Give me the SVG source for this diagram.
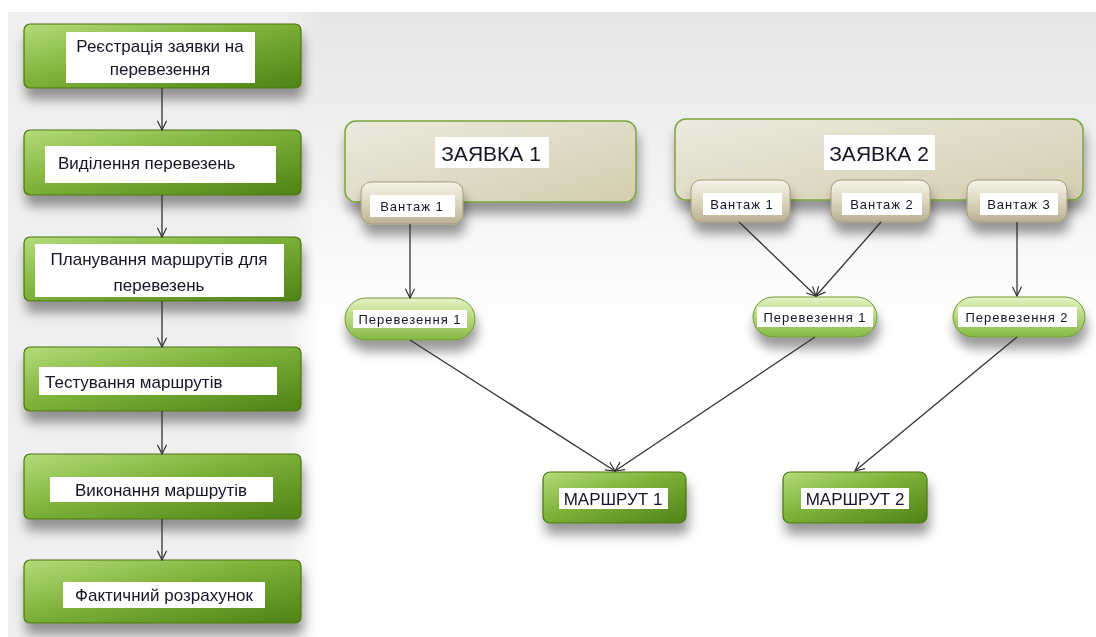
<svg xmlns="http://www.w3.org/2000/svg" width="1096" height="637" viewBox="0 0 1096 637">
<defs>
<linearGradient id="gGreen" x1="0" y1="0" x2="1" y2="1">
<stop offset="0" stop-color="#b4dc7a"/><stop offset="0.45" stop-color="#7fb23a"/><stop offset="1" stop-color="#4f8216"/>
</linearGradient>
<linearGradient id="gBeige" x1="0" y1="0" x2="1" y2="1">
<stop offset="0" stop-color="#eceadf"/><stop offset="1" stop-color="#d4cdb0"/>
</linearGradient>
<linearGradient id="gTag" x1="0" y1="0" x2="0" y2="1">
<stop offset="0" stop-color="#f6f4ea"/><stop offset="0.5" stop-color="#ddd7bf"/><stop offset="1" stop-color="#b9b093"/>
</linearGradient>
<linearGradient id="gPill" x1="0" y1="0" x2="0" y2="1">
<stop offset="0" stop-color="#e4f3c8"/><stop offset="0.35" stop-color="#c4e08e"/><stop offset="1" stop-color="#86b844"/>
</linearGradient>
<linearGradient id="gBg" x1="0" y1="0" x2="0" y2="1">
<stop offset="0" stop-color="#e6e6e6"/><stop offset="1" stop-color="#ffffff"/>
</linearGradient>
<linearGradient id="gLeft" x1="0" y1="0" x2="1" y2="0">
<stop offset="0" stop-color="#efefef"/><stop offset="0.9" stop-color="#efefef"/><stop offset="1" stop-color="#efefef" stop-opacity="0"/>
</linearGradient>
<filter id="sh" x="-20%" y="-30%" width="140%" height="190%">
<feGaussianBlur in="SourceAlpha" stdDeviation="6"/>
<feOffset dx="2" dy="11" result="b"/>
<feComponentTransfer><feFuncA type="linear" slope="0.4"/></feComponentTransfer>
<feMerge><feMergeNode/><feMergeNode in="SourceGraphic"/></feMerge>
</filter>
<marker id="arr" viewBox="0 0 12 12" refX="11" refY="6" markerWidth="11" markerHeight="11" markerUnits="userSpaceOnUse" orient="auto">
<path d="M1,1 L11,6 L1,11" fill="none" stroke="#333" stroke-width="1.3"/>
</marker>
<style>
.gbox{fill:url(#gGreen);stroke:#4a7414;stroke-width:1.2}
.cont{fill:url(#gBeige);stroke:#7aa53a;stroke-width:1.5}
.tag{fill:url(#gTag);stroke:#a59a78;stroke-width:1}
.pill{fill:url(#gPill);stroke:#6e9a34;stroke-width:1}
.lbl{fill:#ffffff}
.t{font-family:"Liberation Sans",Arial,sans-serif;fill:#141428}
.t17{font-size:17px}
.t20{font-size:21px}
.t13{font-size:13px;letter-spacing:1px}
.conn line{stroke:#333;stroke-width:1.3;marker-end:url(#arr)}
</style>
</defs>
<rect x="0" y="0" width="1096" height="637" fill="#ffffff"/>
<rect x="8" y="12" width="1088" height="320" fill="url(#gBg)"/>
<rect x="8" y="12" width="310" height="625" fill="url(#gLeft)"/>

<g id="step1" filter="url(#sh)">
<rect class="gbox" x="24" y="24" width="277" height="64" rx="6"/>
<rect class="lbl" x="66" y="32" width="189" height="51"/>
<text class="t t17" x="160" y="52" text-anchor="middle">Реєстрація заявки на</text>
<text class="t t17" x="160" y="75" text-anchor="middle">перевезення</text>
</g>
<g id="step2" filter="url(#sh)">
<rect class="gbox" x="24" y="130" width="277" height="65" rx="6"/>
<rect class="lbl" x="45" y="146" width="231" height="37"/>
<text class="t t17" x="58" y="169">Виділення перевезень</text>
</g>
<g id="step3" filter="url(#sh)">
<rect class="gbox" x="24" y="237" width="277" height="64" rx="6"/>
<rect class="lbl" x="35" y="244" width="249" height="53"/>
<text class="t t17" x="159" y="265" text-anchor="middle">Планування маршрутів для</text>
<text class="t t17" x="159" y="291" text-anchor="middle">перевезень</text>
</g>
<g id="step4" filter="url(#sh)">
<rect class="gbox" x="24" y="347" width="277" height="64" rx="6"/>
<rect class="lbl" x="39" y="367" width="238" height="28"/>
<text class="t t17" x="45" y="388">Тестування маршрутів</text>
</g>
<g id="step5" filter="url(#sh)">
<rect class="gbox" x="24" y="454" width="277" height="65" rx="6"/>
<rect class="lbl" x="50" y="477" width="223" height="25"/>
<text class="t t17" x="161" y="496" text-anchor="middle">Виконання маршрутів</text>
</g>
<g id="step6" filter="url(#sh)">
<rect class="gbox" x="24" y="560" width="277" height="63" rx="6"/>
<rect class="lbl" x="63" y="582" width="202" height="26"/>
<text class="t t17" x="164" y="601" text-anchor="middle">Фактичний розрахунок</text>
</g>

<g id="order1" filter="url(#sh)">
<rect class="cont" x="345" y="121" width="291" height="81" rx="11"/>
<rect class="lbl" x="435" y="137" width="114" height="31"/>
<text class="t t20" x="491" y="161" text-anchor="middle">ЗАЯВКА 1</text>
</g>
<g id="order2" filter="url(#sh)">
<rect class="cont" x="675" y="119" width="408" height="81" rx="11"/>
<rect class="lbl" x="824" y="135" width="111" height="35"/>
<text class="t t20" x="879" y="161" text-anchor="middle">ЗАЯВКА 2</text>
</g>

<g id="cargo1a" filter="url(#sh)">
<rect class="tag" x="361" y="182" width="102" height="42" rx="10"/>
<rect class="lbl" x="370" y="195" width="85" height="22"/>
<text class="t t13" x="412" y="211" text-anchor="middle">Вантаж 1</text>
</g>
<g id="cargo1b" filter="url(#sh)">
<rect class="tag" x="691" y="180" width="99" height="42" rx="10"/>
<rect class="lbl" x="703" y="193" width="79" height="22"/>
<text class="t t13" x="742" y="209" text-anchor="middle">Вантаж 1</text>
</g>
<g id="cargo2" filter="url(#sh)">
<rect class="tag" x="831" y="180" width="99" height="42" rx="10"/>
<rect class="lbl" x="842" y="193" width="80" height="22"/>
<text class="t t13" x="882" y="209" text-anchor="middle">Вантаж 2</text>
</g>
<g id="cargo3" filter="url(#sh)">
<rect class="tag" x="967" y="180" width="100" height="42" rx="10"/>
<rect class="lbl" x="980" y="193" width="78" height="22"/>
<text class="t t13" x="1019" y="209" text-anchor="middle">Вантаж 3</text>
</g>

<g id="trans1a" filter="url(#sh)">
<rect class="pill" x="345" y="298" width="130" height="42" rx="21"/>
<rect class="lbl" x="353" y="310" width="114" height="18"/>
<text class="t t13" x="410" y="324" text-anchor="middle">Перевезення 1</text>
</g>
<g id="trans1b" filter="url(#sh)">
<rect class="pill" x="753" y="297" width="124" height="40" rx="20"/>
<rect class="lbl" x="757" y="307" width="116" height="20"/>
<text class="t t13" x="815" y="322" text-anchor="middle">Перевезення 1</text>
</g>
<g id="trans2" filter="url(#sh)">
<rect class="pill" x="953" y="297" width="132" height="40" rx="20"/>
<rect class="lbl" x="958" y="307" width="119" height="20"/>
<text class="t t13" x="1017" y="322" text-anchor="middle">Перевезення 2</text>
</g>

<g id="route1" filter="url(#sh)">
<rect class="gbox" x="543" y="472" width="143" height="51" rx="7"/>
<rect class="lbl" x="559" y="488" width="109" height="21"/>
<text class="t t17" x="613" y="505" text-anchor="middle">МАРШРУТ 1</text>
</g>
<g id="route2" filter="url(#sh)">
<rect class="gbox" x="783" y="472" width="144" height="51" rx="7"/>
<rect class="lbl" x="801" y="488" width="108" height="21"/>
<text class="t t17" x="855" y="505" text-anchor="middle">МАРШРУТ 2</text>
</g>

<g id="connectors" class="conn">
<line x1="162" y1="88" x2="162" y2="130"/>
<line x1="162" y1="195" x2="162" y2="237"/>
<line x1="162" y1="301" x2="162" y2="347"/>
<line x1="162" y1="411" x2="162" y2="454"/>
<line x1="162" y1="519" x2="162" y2="560"/>
<line x1="410" y1="224" x2="410" y2="298"/>
<line x1="739" y1="222" x2="816" y2="296"/>
<line x1="881" y1="222" x2="816" y2="296"/>
<line x1="1017" y1="222" x2="1017" y2="296"/>
<line x1="410" y1="340" x2="615" y2="471"/>
<line x1="815" y1="337" x2="615" y2="471"/>
<line x1="1017" y1="337" x2="855" y2="471"/>
</g>
</svg>
